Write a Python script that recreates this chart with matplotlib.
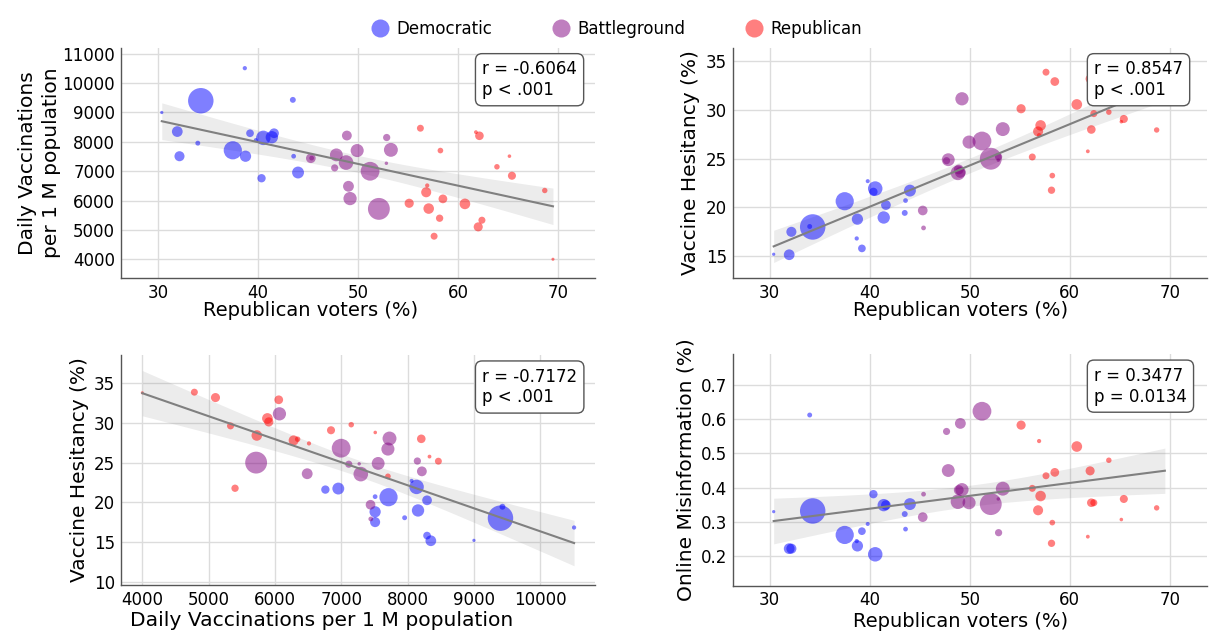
import numpy as np
import matplotlib.pyplot as plt
from matplotlib.lines import Line2D

# one entry per state: group, republican vote share, daily vaccinations per 1M,
# vaccine hesitancy (%), online misinformation (%), population (millions, for size)
states = ['VT', 'MA', 'MD', 'CA', 'HI', 'NY', 'RI', 'WA', 'CT', 'DE', 'IL', 'NJ',
          'OR', 'CO', 'VA', 'NM', 'ME',
          'MN', 'NH', 'NV', 'MI', 'PA', 'WI', 'AZ', 'GA', 'NC', 'FL', 'TX', 'IA',
          'AK', 'OH',
          'KS', 'SC', 'MO', 'IN', 'NE', 'MT', 'MS', 'LA', 'UT', 'TN', 'SD', 'AL',
          'KY', 'AR', 'ID', 'OK', 'ND', 'WV', 'WY']
group = ['Democratic'] * 17 + ['Battleground'] * 14 + ['Republican'] * 19

rep_pct = [30.4, 31.95, 32.17, 34.3, 34.0, 37.5, 38.7, 38.77, 39.22, 39.8, 40.55, 41.4,
           40.37, 41.62, 44.02, 43.5, 43.58,
           45.3, 45.38, 47.68, 47.85, 48.82, 48.9, 49.06, 49.22, 49.93, 51.22, 52.1, 52.88,
           52.85, 53.3,
           56.25, 55.13, 56.83, 57.08, 58.25, 56.93, 57.62, 58.5, 58.17, 60.7, 61.8, 62.03,
           62.15, 62.4, 63.9, 65.4, 65.15, 68.68, 69.5]

vacc = [9000, 8350, 7510, 9400, 7955, 7712, 10510, 7510, 8293, 8060, 8135, 8157,
        6760, 8293, 6955, 9430, 7510,
        7441, 7445, 7113, 7556, 7294, 8215, 6486, 6067, 7703, 6998, 5716, 8147,
        7270, 7727,
        8464, 5907, 6282, 5726, 7703, 6513, 4785, 6057, 5398, 5886, 8330, 5103,
        8206, 5330, 7150, 6845, 7512, 6342, 4000]

hesitancy = [15.2, 15.15, 17.5, 18.0, 18.05, 20.64, 16.82, 18.8, 15.8, 22.7, 21.94, 18.97,
             21.6, 20.25, 21.73, 19.44, 20.71,
             19.69, 17.9, 24.8, 24.9, 23.55, 23.9, 23.6, 31.15, 26.71, 26.82, 25.0, 25.2,
             24.85, 28.04,
             25.18, 30.13, 27.8, 28.42, 23.27, 27.42, 33.88, 32.92, 21.77, 30.57, 25.76, 33.2,
             28.0, 29.63, 29.78, 29.08, 28.8, 27.95, 33.8]

misinfo = [0.330, 0.222, 0.222, 0.332, 0.612, 0.262, 0.244, 0.230, 0.273, 0.294, 0.2055, 0.349,
           0.381, 0.349, 0.352, 0.323, 0.279,
           0.314, 0.381, 0.564, 0.450, 0.359, 0.393, 0.5875, 0.394, 0.356, 0.623, 0.352, 0.2686,
           0.367, 0.397,
           0.398, 0.5825, 0.334, 0.3755, 0.298, 0.536, 0.4347, 0.4446, 0.2376, 0.520, 0.257, 0.449,
           0.356, 0.356, 0.480, 0.367, 0.307, 0.341, 0.68]

population = [0.64, 7.03, 6.18, 39.54, 1.46, 20.20, 1.10, 7.71, 3.61, 0.99, 12.81, 9.29,
              4.24, 5.77, 8.63, 2.12, 1.36,
              5.71, 1.38, 3.10, 10.08, 13.00, 5.89, 7.15, 10.71, 10.44, 21.54, 29.15, 3.19,
              0.73, 11.80,
              2.94, 5.12, 6.15, 6.79, 1.96, 1.08, 2.96, 4.66, 3.27, 6.91, 0.89, 5.02,
              4.51, 3.01, 1.84, 3.96, 0.78, 1.79, 0.58]

groups = ['Democratic', 'Battleground', 'Republican']
colors = {'Democratic': 'blue', 'Battleground': 'purple', 'Republican': 'red'}

stats_text = ['r = -0.6064\np < .001', 'r = 0.8547\np < .001',
              'r = -0.7172\np < .001', 'r = 0.3477\np = 0.0134']

df = {'rep': np.array(rep_pct), 'vacc': np.array(vacc, float),
      'hes': np.array(hesitancy), 'mis': np.array(misinfo)}
grp = np.array(group)
pop = np.array(population)

# panel: x key, y key, xlabel, ylabel, xlim, ylim, xticks, yticks, axes rect,
# xlabel position (axes coords), xlabel size
panels = [
    ('rep', 'vacc', 'Republican voters (%)', 'Daily Vaccinations\nper 1 M population',
     (26.3, 73.7), (3350, 11210), np.arange(30, 71, 10), np.arange(4000, 11001, 1000),
     [0.0985, 0.5617, 0.3868, 0.3633], (0.40, -0.10), 14),
    ('rep', 'hes', 'Republican voters (%)', 'Vaccine Hesitancy (%)',
     (26.3, 73.7), (12.73, 36.4), np.arange(30, 71, 10), np.arange(15, 36, 5),
     [0.5976, 0.5617, 0.3868, 0.3633], (0.48, -0.10), 14),
    ('vacc', 'hes', 'Daily Vaccinations per 1 M population', 'Vaccine Hesitancy (%)',
     (3675, 10825), (9.57, 38.57), np.arange(4000, 10001, 1000), np.arange(10, 36, 5),
     [0.0985, 0.0787, 0.3868, 0.3623], (0.424, -0.115), 14.6),
    ('rep', 'mis', 'Republican voters (%)', 'Online Misinformation (%)',
     (26.3, 73.7), (0.114, 0.79), np.arange(30, 71, 10), np.arange(0.2, 0.71, 0.1),
     [0.5976, 0.0777, 0.3868, 0.3648], (0.48, -0.115), 14),
]

fig = plt.figure(figsize=(12.26, 6.35), dpi=100)

for i, (xk, yk, xl, yl, xlim, ylim, xt, yt, rect, xlab_pos, xlab_fs) in enumerate(panels):
    ax = fig.add_axes(rect)
    x = df[xk]
    y = df[yk]

    for g in groups:
        m = grp == g
        ax.scatter(x[m], y[m], s=pop[m] * 8.5, color=colors[g], alpha=0.5,
                   linewidths=0, zorder=2)

    # linear fit with 95% confidence band
    n = len(x)
    b1, b0 = np.polyfit(x, y, 1)
    resid = y - (b0 + b1 * x)
    s = np.sqrt(np.sum(resid ** 2) / (n - 2))
    xs = np.linspace(x.min(), x.max(), 100)
    ys = b0 + b1 * xs
    se = s * np.sqrt(1.0 / n + (xs - x.mean()) ** 2 / np.sum((x - x.mean()) ** 2))
    ax.fill_between(xs, ys - 2.011 * se, ys + 2.011 * se, color='gray', alpha=0.15,
                    linewidth=0, zorder=1)
    ax.plot(xs, ys, color='gray', lw=1.5, zorder=3)

    ax.set_xlim(xlim)
    ax.set_ylim(ylim)
    ax.set_xticks(xt)
    ax.set_yticks(yt)
    if yk == 'mis':
        ax.set_yticklabels(['%.1f' % v for v in yt])
    ax.tick_params(labelsize=12, length=0, pad=4)
    ax.set_xlabel(xl, fontsize=xlab_fs)
    ax.xaxis.set_label_coords(*xlab_pos)
    if i == 0:
        ax.set_ylabel(yl, fontsize=14.5, labelpad=1, linespacing=1.35)
    else:
        ax.set_ylabel(yl, fontsize=14.5, labelpad=4)
    ax.grid(True, color='#dcdcdc', lw=1)
    ax.set_axisbelow(True)
    for side in ['top', 'right']:
        ax.spines[side].set_visible(False)
    for side in ['left', 'bottom']:
        ax.spines[side].set_color('#555555')
        ax.spines[side].set_linewidth(1)

    ax.text(0.762, 0.945, stats_text[i], transform=ax.transAxes, fontsize=12,
            ha='left', va='top', linespacing=1.2, zorder=10,
            bbox=dict(boxstyle='round,pad=0.4', fc='white', ec='#555555', lw=1))

handles = [Line2D([], [], marker='o', ls='', markersize=13, markeredgewidth=0,
                  color=colors[g], alpha=0.5) for g in groups]
fig.legend(handles, groups, loc='center', bbox_to_anchor=(0.503, 0.954), ncol=3,
           frameon=False, fontsize=12, handlelength=1.0, handletextpad=0.5,
           columnspacing=3.6)

fig.savefig('out.png', dpi=100)
